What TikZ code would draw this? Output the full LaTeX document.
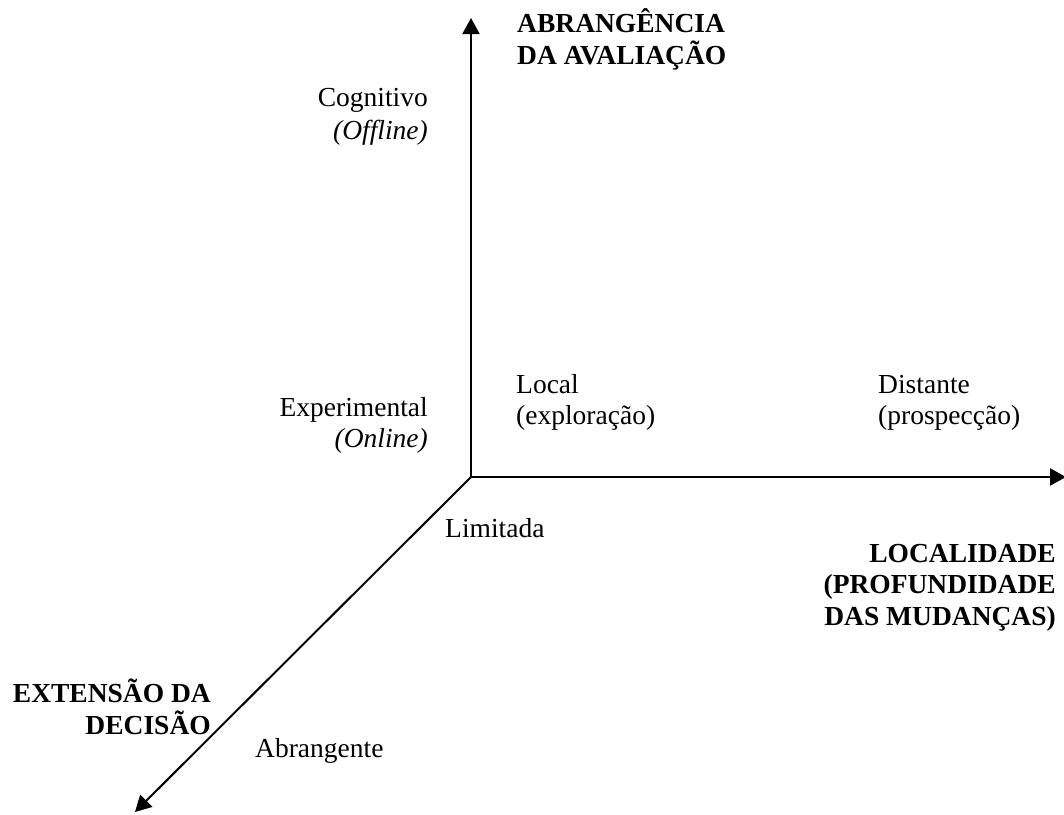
\documentclass[tikz,border=0pt]{standalone}
\usepackage{fontspec}
\setmainfont{Liberation Serif}
\usetikzlibrary{arrows.meta}
\begin{document}
\begin{tikzpicture}[x=1pt,y=-1pt,
  lbl/.style={inner sep=0pt, font=\fontsize{27.5}{31}\selectfont},
  ttl/.style={lbl, font=\fontsize{27.5}{31.5}\selectfont\bfseries},
  axis/.style={line width=2pt, -{Triangle[length=16pt,width=17pt]}}]
  \useasboundingbox (0,0) rectangle (1064,814);
  % origin and axis ends
  \coordinate (o) at (471,477);
  \coordinate (top) at (471,18);
  \coordinate (right) at (1066,477);
  \coordinate (diag) at (135,812);
  \draw[axis] (o) -- (top);
  \draw[axis] (o) -- (right);
  \draw[axis] (o) -- (diag);
  % axis titles (anchored at the baseline of their last line)
  \node[ttl, anchor=base west, align=left] (ta) at (517,64) {ABRANGÊNCIA\\DA AVALIAÇÃO};
  \node[ttl, anchor=base east, align=right] (tl) at (1056,625) {LOCALIDADE\\(PROFUNDIDADE\\DAS MUDANÇAS)};
  \node[ttl, anchor=base east, align=right] (te) at (211,734) {EXTENSÃO DA\\DECISÃO};
  % vertical axis levels
  \node[lbl, anchor=base east, align=right, font=\fontsize{27.5}{33}\selectfont] (cog) at (428,139) {Cognitivo\\\textit{(Offline)}};
  \node[lbl, anchor=base east, align=right] (exp) at (428,447) {Experimental\\\textit{(Online)}};
  % horizontal axis levels
  \node[lbl, anchor=base west, align=left] (loc) at (516,424) {Local\\(exploração)};
  \node[lbl, anchor=base west, align=left] (dis) at (878,424) {Distante\\(prospecção)};
  % diagonal axis levels
  \node[lbl, anchor=base west] (lim) at (445,537) {Limitada};
  \node[lbl, anchor=base west] (abr) at (255,757) {Abrangente};
\end{tikzpicture}
\end{document}
